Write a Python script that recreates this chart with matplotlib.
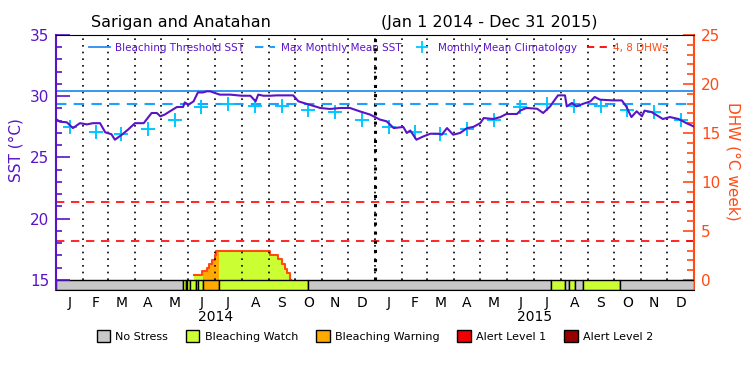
import numpy as np
import matplotlib
matplotlib.use("Agg")
import matplotlib.pyplot as plt
from matplotlib.lines import Line2D
from matplotlib.patches import Patch, Rectangle

# ---- data (days since Jan 1 2014) ----
sst_day = [0, 4, 12, 19, 27, 35, 42, 50, 56, 63, 67, 75, 82, 90, 100, 103, 109, 115, 119, 124,
           130, 138, 145, 147, 151, 157, 162, 168, 172, 176, 187, 199, 212, 222, 228, 231, 237, 245, 252, 271,
           277, 290, 302, 313, 325, 336, 347, 359, 370, 378, 386, 397, 401, 405, 412, 420, 428, 437, 441, 447,
           454, 462, 470, 477, 485, 489, 500, 508, 515, 527, 531, 538, 550, 557, 565, 569, 574, 582, 584, 590,
           595, 603, 611, 616, 622, 637, 647, 652, 658, 664, 670, 673, 681, 689, 694, 702, 712, 721, 729]
sst_val = [28.12, 27.92, 27.87, 27.4, 27.8, 27.7, 27.8, 27.8, 27.05, 26.9, 26.45, 26.86, 27.27, 27.8, 27.8, 28.08, 28.63, 28.63, 28.36, 28.5,
           28.77, 29.12, 29.12, 29.5, 29.3, 29.58, 30.31, 30.31, 30.4, 30.4, 30.13, 30.13, 30.04, 30.04, 29.58, 30.13, 30.04, 30.04, 30.07, 30.07,
           29.58, 29.3, 29.04, 28.96, 29.04, 29.04, 28.77, 28.5, 28.1, 27.95, 27.4, 27.49, 27.0, 27.2, 26.45, 26.72, 26.94, 26.94, 26.86, 27.4,
           26.86, 27.0, 27.4, 27.49, 27.8, 28.22, 28.14, 28.3, 28.55, 28.55, 28.84, 29.04, 28.98, 28.63, 29.17, 29.58, 30.07, 30.07, 29.17, 29.45,
           29.17, 29.39, 29.58, 29.94, 29.72, 29.66, 29.66, 29.17, 28.3, 28.77, 28.36, 28.82, 28.71, 28.36, 28.14, 28.3, 28.14, 27.8, 27.54]

clim = [27.46, 27.08, 26.92, 27.35, 28.03, 29.12, 29.37, 29.17, 29.17, 28.84, 28.71, 28.03]
mmm = 29.4
threshold = 30.4
dhw_levels = [4, 8]

dhw_day = [158, 167, 172, 175, 178, 181, 183, 245, 254, 258, 262, 264, 267]
dhw_val = [0.5, 0.9, 1.2, 1.6, 2.0, 2.5, 3.0, 2.5, 2.1, 1.6, 1.1, 0.7, 0.0]

# stress bar segments: start day, end day, level
stress_start = [0, 145, 148, 150, 153, 160, 162, 167.5, 186, 288, 566, 582, 587, 594, 603, 645]
stress_end = [145, 148, 150, 153, 160, 162, 167.5, 186, 288, 566, 582, 587, 594, 603, 645, 730]
stress_lvl = [0, 1, 0, 1, 1, 1, 1, 2, 1, 0, 1, 0, 1, 0, 1, 0]

stress_names = ["No Stress", "Bleaching Watch", "Bleaching Warning", "Alert Level 1", "Alert Level 2"]
stress_colors = ["#c8c8c8", "#ccff33", "#ffaa00", "#f00000", "#960000"]

month_letters = list("JFMAMJJASOND") * 2
years = ["2014", "2015"]

purple = "#5a14c8"
orangered = "#ff4a14"

month_starts = (np.arange("2014-01", "2016-02", dtype="datetime64[M]").astype("datetime64[D]")
                - np.datetime64("2014-01-01")).astype(int)
month_mid = (month_starts[:-1] + month_starts[1:]) / 2.0

ymin = 14.18
fig = plt.figure(figsize=(7.5, 3.75), dpi=100)
ax = fig.add_axes([0.0751, 0.2267, 0.8507, 0.68])
ax2 = ax.twinx()
ax.set_zorder(ax2.get_zorder() + 1)
ax.patch.set_visible(False)

ax.set_xlim(0, 730)
ax.set_ylim(ymin, 35)
ax2.set_ylim((ymin - 15) * 1.25, 25)

# DHW fill coloured by stress level
dx = np.array(dhw_day + [dhw_day[-1] + 1])
dy = np.array(dhw_val + [0.0])
for s, e, lv in zip(stress_start, stress_end, stress_lvl):
    if lv == 0:
        continue
    f = ax2.fill_between(dx, 0, dy, step="post", color=stress_colors[lv], lw=0)
    f.set_clip_path(Rectangle((s, 0), e - s, 30, transform=ax2.transData))
ax2.step(dx, dy, where="post", color=orangered, lw=1.5)
for lv in dhw_levels:
    ax2.axhline(lv, color="#ff0000", lw=1.2, ls=(0, (5, 4)))

# stress bar
ax.broken_barh([(s, e - s) for s, e in zip(stress_start, stress_end)], (ymin, 15 - ymin),
               facecolors=[stress_colors[l] for l in stress_lvl], edgecolor="black", lw=1)

# month grid
ax.vlines(month_starts[1:-1], 15, 35, colors="black", linestyles=(0, (1, 3)), lw=1.2)
ax.vlines([365], 15, 35, colors="black", linestyles=(0, (1, 2)), lw=2.2)

ax.axhline(threshold, color="#2a8cf0", lw=1.3)
ax.axhline(mmm, color="#1ea0ff", lw=1.5, ls=(0, (5, 3.5)))
ax.plot(month_mid, np.tile(clim, 2), ls="none", marker="+", ms=10, mew=1.4, color="#00c8ff")
ax.plot(sst_day, sst_val, color=purple, lw=1.5)

# axes styling
ax.spines["right"].set_visible(False)
for sp in ["left", "top", "bottom"]:
    ax2.spines[sp].set_visible(False)
ax.spines["left"].set_color(purple)
ax.spines["left"].set_linewidth(1.5)
ax2.spines["right"].set_color(orangered)
ax2.spines["right"].set_linewidth(1.5)

ax.set_yticks([15, 20, 25, 30, 35])
ax.set_yticks(np.arange(15, 35, 1), minor=True)
ax.tick_params(axis="y", which="major", direction="in", length=10, width=1.2, color=purple,
               labelcolor=purple, labelsize=11, pad=5)
ax.tick_params(axis="y", which="minor", direction="in", length=4.5, width=1.2, color=purple)
ax2.set_yticks([0, 5, 10, 15, 20, 25])
ax2.set_yticks(np.arange(0, 26, 1), minor=True)
ax2.tick_params(axis="y", which="major", direction="in", length=8, width=1.2, color=orangered,
                labelcolor=orangered, labelsize=11, pad=5)
ax2.tick_params(axis="y", which="minor", direction="in", length=5, width=1.2, color=orangered)

ax.set_xticks(month_mid)
ax.set_xticklabels(month_letters)
ax.tick_params(axis="x", length=0, labelsize=10, pad=4)
for i, y in enumerate(years):
    ax.text(182.5 + 365 * i, -0.08, y, transform=ax.get_xaxis_transform(), ha="center", va="top", fontsize=10)

ax.set_ylabel("SST (°C)", color=purple, fontsize=11)
ax.yaxis.set_label_coords(-0.052, 0.55)
ax2.set_ylabel("DHW (°C week)", color=orangered, fontsize=11, rotation=270, va="center")
ax2.yaxis.set_label_coords(1.061, 0.506)

fig.text(0.241, 0.941, "Sarigan and Anatahan", ha="center", va="center", fontsize=11.5)
fig.text(0.652, 0.941, "(Jan 1 2014 - Dec 31 2015)", ha="center", va="center", fontsize=11.5)

top_handles = [Line2D([], [], color="#2a8cf0", lw=1.3),
               Line2D([], [], color="#1ea0ff", lw=1.5, ls=(0, (4, 3))),
               Line2D([], [], color="#00c8ff", ls="none", marker="+", ms=8, mew=1.3),
               Line2D([], [], color="#ff0000", lw=1.3, ls=(0, (4, 3)))]
ax.legend(top_handles, ["Bleaching Threshold SST", "Max Monthly Mean SST", "Monthly Mean Climatology", "4, 8 DHWs"],
          loc="center", bbox_to_anchor=(0.505, 0.949), ncol=4, frameon=False, fontsize=7.5,
          handlelength=2.0, handletextpad=0.5, columnspacing=1.0,
          labelcolor=[purple, purple, purple, orangered])

bot_handles = [Patch(facecolor=c, edgecolor="black", lw=1) for c in stress_colors]
fig.legend(bot_handles, stress_names, loc="center", bbox_to_anchor=(0.5, 0.104), ncol=5, frameon=False,
           fontsize=8, handlelength=1.2, handleheight=1.2, handletextpad=0.5, columnspacing=1.6)

fig.savefig("out.png", dpi=100)
